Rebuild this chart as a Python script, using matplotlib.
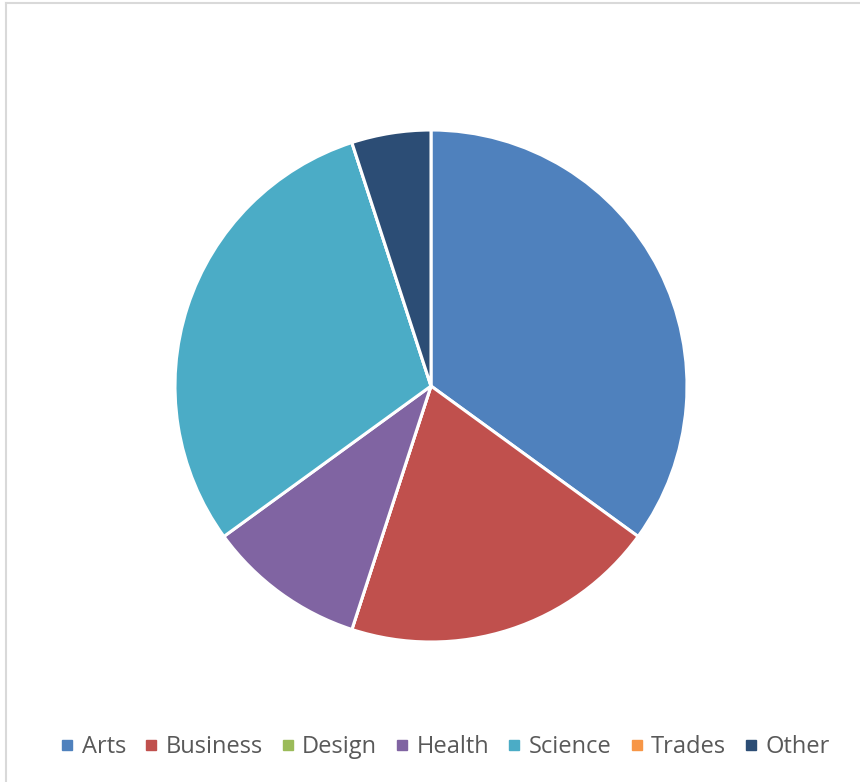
import matplotlib.pyplot as plt
from matplotlib.lines import Line2D

# Share of students by faculty
categories = ['Arts', 'Business', 'Design', 'Health', 'Science', 'Trades', 'Other']
shares = [35, 20, 0, 10, 30, 0, 5]
colors = ['#4F81BD', '#C0504D', '#9BBB59', '#8064A2', '#4BACC6', '#F79646', '#2C4D75']

W, H = 860, 782
fig = plt.figure(figsize=(W / 100, H / 100), dpi=100)

# pie centred at (431, 386) px with radius 256 px
cx, cy, r = 431, 386, 256
ax = fig.add_axes([(cx - r) / W, (H - cy - r) / H, 2 * r / W, 2 * r / H])
ax.pie(shares, colors=colors, startangle=90, counterclock=False,
       radius=1.0, wedgeprops=dict(edgecolor='white', linewidth=2.2))
ax.set_xlim(-1.0, 1.0)
ax.set_ylim(-1.0, 1.0)
ax.axis('off')

# chart area border (left and top edges)
fig.add_artist(Line2D([6 / W, 6 / W], [0, 1 - 3 / H], color='#D9D9D9', linewidth=1.5))
fig.add_artist(Line2D([6 / W, 1], [1 - 3 / H, 1 - 3 / H], color='#D9D9D9', linewidth=1.5))

handles = [Line2D([], [], marker='s', linestyle='none', markersize=7,
                  markerfacecolor=c, markeredgecolor=c) for c in colors]
leg = fig.legend(handles, categories, loc='center', bbox_to_anchor=(445 / W, 1 - 747 / H),
                 ncol=7, frameon=False, handlelength=0.6,
                 handletextpad=0.3, columnspacing=0.77,
                 prop={'family': 'Open Sans', 'size': 17})
for t in leg.get_texts():
    t.set_color('#595959')

fig.savefig('out.png', dpi=100)
